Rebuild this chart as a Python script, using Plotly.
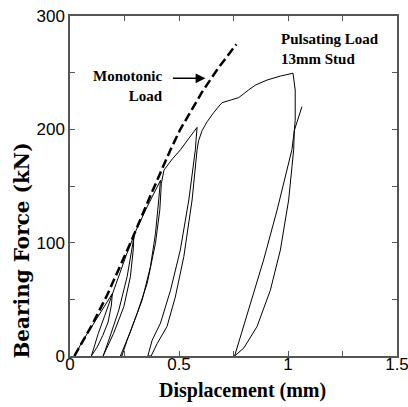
import plotly.graph_objects as go

# Monotonic load (dashed)
mono_x = [0.02, 0.10, 0.171, 0.278, 0.37, 0.461, 0.506, 0.55, 0.606, 0.68, 0.763]
mono_y = [0, 27, 54, 100, 142, 182, 200, 215, 233, 254, 275]

# Pulsating load (solid), traced sequentially
puls_x = [0.02, 0.06, 0.10, 0.14, 0.17, 0.194,
          0.190, 0.175, 0.15, 0.125, 0.098,
          0.11, 0.13, 0.16, 0.185, 0.20, 0.23, 0.26, 0.293,
          0.29, 0.277, 0.247, 0.20, 0.152,
          0.178, 0.224, 0.262, 0.285, 0.296, 0.354, 0.415,
          0.407, 0.392, 0.369, 0.331, 0.277, 0.231,
          0.238, 0.262, 0.308, 0.354, 0.392, 0.412, 0.419, 0.431, 0.47, 0.507, 0.545, 0.583,
          0.578, 0.575, 0.545, 0.506, 0.461, 0.415, 0.377, 0.357,
          0.372, 0.40, 0.445, 0.483, 0.522, 0.56, 0.583, 0.59, 0.606, 0.629, 0.66, 0.697,
          0.74, 0.774, 0.819, 0.85, 0.904, 0.965, 1.023,
          1.033, 1.033, 1.029, 1.026, 1.003, 0.965, 0.919, 0.858, 0.797, 0.755,
          0.781, 0.827, 0.888, 0.950, 0.995, 1.018, 1.029, 1.064]
puls_y = [0, 14, 26, 38, 47, 55,
          45, 30, 18, 8, 0,
          8, 20, 36, 50, 58, 74, 90, 106,
          93.5, 70, 43.5, 20, 0,
          14, 40.6, 70, 93.5, 108, 131.7, 155,
          137.6, 108, 78.8, 49.4, 21.4, 0,
          0, 14, 37.6, 64, 99.4, 129, 152, 164, 174, 182, 192, 201.7,
          190, 182, 137.6, 93.5, 58, 29, 14, 0,
          0, 11, 26, 52, 87.6, 137.6, 182, 190, 199, 206.7, 215, 223.5,
          226, 228, 234.7, 239, 243.5, 247, 249.5,
          234.7, 208, 199, 182, 137.6, 93.5, 58, 26, 7, 0,
          17, 46.5, 84.7, 128.8, 164, 182, 199, 220]

x_ticks = [0, 0.25, 0.5, 0.75, 1, 1.25, 1.5]
x_labels = ["0", "", "0.5", "", "1", "", "1.5"]
y_ticks = [0, 50, 100, 150, 200, 250, 300]
y_labels = ["0", "", "100", "", "200", "", "300"]

x_title = "Displacement (mm)"
y_title = "Bearing Force (kN)"

fig = go.Figure()
fig.add_trace(go.Scatter(x=puls_x, y=puls_y, mode="lines",
                         line=dict(color="black", width=1), showlegend=False))
fig.add_trace(go.Scatter(x=mono_x, y=mono_y, mode="lines",
                         line=dict(color="black", width=2.5, dash="9px,4px"),
                         showlegend=False))

serif = "Liberation Serif"
fig.add_annotation(x=0.438, y=238, xref="x", yref="y", text="<b>Monotonic<br>Load</b>",
                   showarrow=False, xanchor="right", yanchor="middle", align="right",
                   font=dict(family=serif, size=15, color="black"))
fig.add_annotation(x=0.96, y=271, xref="x", yref="y", text="<b>Pulsating Load<br>13mm Stud</b>",
                   showarrow=False, xanchor="left", yanchor="middle", align="left",
                   font=dict(family=serif, size=15, color="black"))
fig.add_annotation(x=0.621, y=245, xref="x", yref="y", ax=-34, ay=0, text="",
                   showarrow=True, arrowhead=2, arrowsize=1.3, arrowwidth=1.5,
                   arrowcolor="black")

# axis titles as annotations to match their placement in the reference
fig.add_annotation(x=0.526, y=-0.1, xref="paper", yref="paper",
                   text="<b>" + x_title + "</b>", showarrow=False,
                   xanchor="center", yanchor="middle",
                   font=dict(family=serif, size=20, color="black"))
fig.add_annotation(x=-0.147, y=0.31, xref="paper", yref="paper",
                   text="<b>" + y_title + "</b>", showarrow=False, textangle=-90,
                   xanchor="center", yanchor="middle",
                   font=dict(family="DejaVu Serif", size=20, color="black"))

axis_common = dict(showline=True, linecolor="#555555", linewidth=1.5, mirror="allticks",
                   ticks="inside", ticklen=5, tickcolor="#555555", tickwidth=1,
                   showgrid=False, zeroline=False, automargin=False,
                   tickfont=dict(family="Liberation Sans", size=17, color="black"))

fig.update_xaxes(range=[0, 1.5], tickvals=x_ticks, ticktext=x_labels,
                 ticklabelstandoff=-8, **axis_common)
fig.update_yaxes(range=[0, 300], tickvals=y_ticks, ticktext=y_labels, **axis_common)

# figure a bit wider than the window so the "1.5" label is cropped like the reference
fig.update_layout(width=420, height=407, margin=dict(l=70, r=23, t=16, b=51),
                  plot_bgcolor="white", paper_bgcolor="white")

fig.write_html("out.html", config={"displayModeBar": False},
               post_script="document.body.style.margin='0';"
                           "document.body.style.overflow='hidden';")
